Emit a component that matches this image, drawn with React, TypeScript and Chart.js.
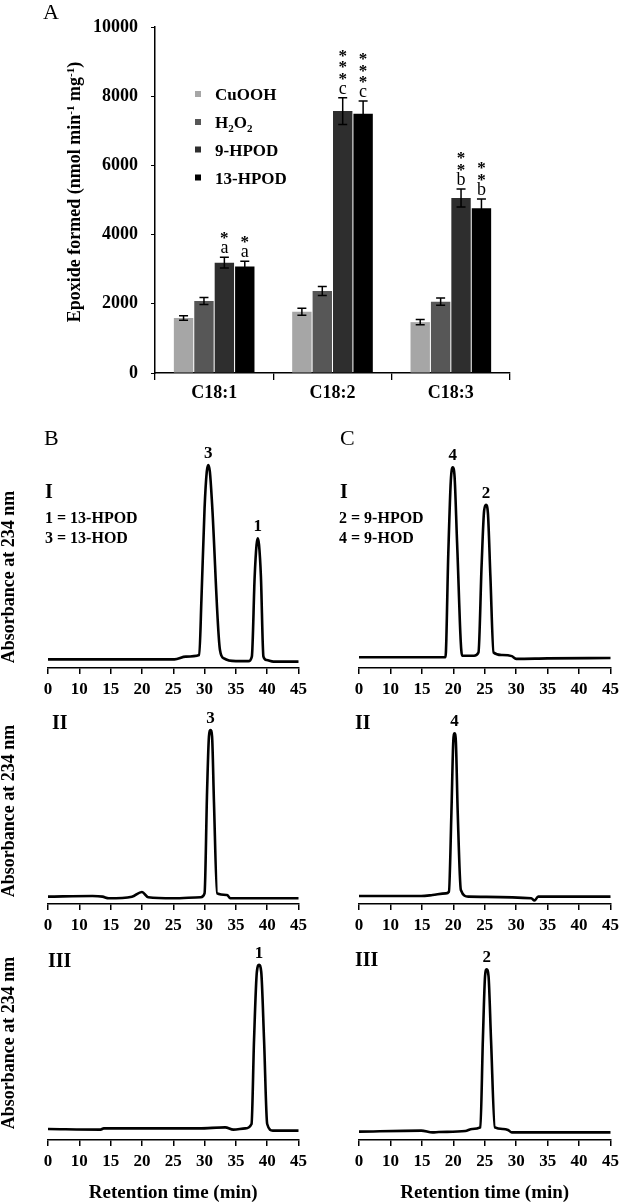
import React, { useEffect, useRef } from 'react';
import { Chart, registerables } from 'chart.js';

Chart.register(...registerables);

const SERIF = '"Liberation Serif", "Times New Roman", serif';

// ---------- Panel A data ----------
const CATEGORIES = ['C18:1', 'C18:2', 'C18:3'];
const SERIES_NAMES = ['CuOOH', 'H2O2', '9-HPOD', '13-HPOD'];
const CUOOH = [1590, 1770, 1470];
const CUOOH_ERR = [65, 100, 75];
const H2O2 = [2080, 2370, 2060];
const H2O2_ERR = [100, 130, 105];
const HPOD9 = [3190, 7570, 5060];
const HPOD9_ERR = [155, 385, 260];
const HPOD13 = [3080, 7490, 4760];
const HPOD13_ERR = [150, 370, 270];
const SERIES_COLORS = ['#a6a6a6', '#575757', '#2e2e2e', '#000000'];
const Y_MAX = 10000;
const Y_STEP = 2000;
// significance marks (only for 9-HPOD and 13-HPOD series)
const HPOD9_LETTERS = ['a', 'c', 'b'];
const HPOD9_STARS = [1, 3, 2];
const HPOD13_LETTERS = ['a', 'c', 'b'];
const HPOD13_STARS = [1, 3, 2];

// ---------- Chromatogram data ----------
const RT_TICK_VALUES = [5, 10, 15, 20, 25, 30, 35, 40, 45];
const RT_TICK_LABELS = ['0', '10', '15', '20', '25', '30', '35', '40', '45'];

const B1_TIME = [5, 15, 25.2, 27, 29.15, 29.5, 30.0, 30.35, 30.6, 30.85, 31.2, 32.46, 33.1, 35, 37.0, 37.55, 38.0, 38.3, 38.5, 38.7, 39.0, 39.4, 39.9, 41, 45];
const B1_ABS = [0.038, 0.038, 0.038, 0.05, 0.057, 0.3, 0.7, 0.86, 0.89, 0.86, 0.72, 0.079, 0.042, 0.03, 0.03, 0.05, 0.4, 0.54, 0.569, 0.54, 0.4, 0.05, 0.035, 0.028, 0.028];

const C1_TIME = [5, 15, 18.75, 19.2, 19.6, 19.9, 20.2, 20.6, 21.4, 23.3, 24.0, 24.5, 24.9, 25.2, 25.5, 25.9, 26.4, 27.7, 29.3, 30.0, 35, 45];
const C1_ABS = [0.047, 0.047, 0.047, 0.5, 0.82, 0.88, 0.84, 0.55, 0.054, 0.054, 0.068, 0.45, 0.69, 0.716, 0.68, 0.4, 0.068, 0.057, 0.052, 0.04, 0.042, 0.044];

const B2_TIME = [5, 12.1, 13.7, 14.7, 18.4, 20, 21, 25, 29.4, 30.0, 30.4, 30.7, 30.95, 31.2, 31.5, 32.0, 33.6, 34.1, 45];
const B2_ABS = [0.036, 0.039, 0.036, 0.028, 0.036, 0.059, 0.033, 0.028, 0.033, 0.052, 0.55, 0.82, 0.853, 0.82, 0.5, 0.052, 0.044, 0.028, 0.028];

const C2_TIME = [5, 14.9, 16.7, 18.8, 19.3, 19.7, 20.0, 20.2, 20.4, 20.7, 21.2, 22.4, 32.4, 32.9, 33.5, 45];
const C2_ABS = [0.039, 0.039, 0.044, 0.052, 0.06, 0.45, 0.8, 0.837, 0.8, 0.45, 0.069, 0.036, 0.028, 0.017, 0.036, 0.036];

const B3_TIME = [5, 13.4, 13.9, 29.1, 33.3, 34.6, 36.5, 37.5, 37.9, 38.35, 38.7, 39.05, 39.5, 40.0, 40.9, 45];
const B3_ABS = [0.055, 0.052, 0.058, 0.058, 0.063, 0.052, 0.058, 0.08, 0.5, 0.84, 0.876, 0.84, 0.5, 0.08, 0.047, 0.047];

const C3_TIME = [5, 14.9, 16.7, 17.7, 21.9, 23, 24.3, 24.7, 25.05, 25.3, 25.6, 26.0, 26.6, 27.9, 28.7, 29.3, 45];
const C3_ABS = [0.042, 0.047, 0.038, 0.04, 0.045, 0.055, 0.063, 0.5, 0.82, 0.853, 0.82, 0.5, 0.063, 0.055, 0.05, 0.038, 0.038];

// ---------- helpers ----------
type Seg = { t: string; s?: 'sup' | 'sub' };

function toSegs(name: string): Seg[] {
  const segs: Seg[] = [];
  for (let i = 0; i < name.length; i++) {
    const ch = name[i];
    const prev = i > 0 ? name[i - 1] : '';
    const sub = /[0-9]/.test(ch) && /[A-Z]/.test(prev);
    const last = segs[segs.length - 1];
    if (last && !!last.s === sub) last.t += ch;
    else segs.push(sub ? { t: ch, s: 'sub' } : { t: ch });
  }
  return segs;
}

function drawRich(ctx: CanvasRenderingContext2D, segs: Seg[], x: number, y: number, size: number, align: 'left' | 'center') {
  const main = `bold ${size}px ${SERIF}`;
  const small = `bold ${Math.round(size * 0.62)}px ${SERIF}`;
  let w = 0;
  for (const s of segs) {
    ctx.font = s.s ? small : main;
    w += ctx.measureText(s.t).width;
  }
  let cx = align === 'center' ? x - w / 2 : x;
  ctx.textAlign = 'left';
  for (const s of segs) {
    ctx.font = s.s ? small : main;
    const dy = s.s === 'sup' ? -size * 0.36 : s.s === 'sub' ? size * 0.22 : 0;
    ctx.fillText(s.t, cx, y + dy);
    cx += ctx.measureText(s.t).width;
  }
}

// ---------- Panel A config ----------
function makeBarConfig(): any {
  const values = [CUOOH, H2O2, HPOD9, HPOD13];
  const errs = [CUOOH_ERR, H2O2_ERR, HPOD9_ERR, HPOD13_ERR];
  const letters: (string[] | null)[] = [null, null, HPOD9_LETTERS, HPOD13_LETTERS];
  const stars: (number[] | null)[] = [null, null, HPOD9_STARS, HPOD13_STARS];

  const extras = {
    id: 'barExtras',
    afterDatasetsDraw(chart: any) {
      const ctx: CanvasRenderingContext2D = chart.ctx;
      const ys = chart.scales.y;
      ctx.save();
      chart.data.datasets.forEach((ds: any, di: number) => {
        const meta = chart.getDatasetMeta(di);
        meta.data.forEach((bar: any, i: number) => {
          const v = ds.data[i];
          const e = errs[di][i];
          const x = bar.x;
          const yt = ys.getPixelForValue(v + e);
          const yb = ys.getPixelForValue(v - e);
          ctx.strokeStyle = '#000';
          ctx.lineWidth = 1.5;
          ctx.beginPath();
          ctx.moveTo(x, yt); ctx.lineTo(x, yb);
          ctx.moveTo(x - 4.5, yt); ctx.lineTo(x + 4.5, yt);
          ctx.moveTo(x - 4.5, yb); ctx.lineTo(x + 4.5, yb);
          ctx.stroke();
          const L = letters[di];
          const S = stars[di];
          if (L && S) {
            ctx.fillStyle = '#000';
            ctx.textAlign = 'center';
            ctx.textBaseline = 'alphabetic';
            ctx.font = `18px ${SERIF}`;
            ctx.fillText(L[i], x, yt - 4);
            ctx.font = `bold 17px ${SERIF}`;
            for (let k = 0; k < S[i]; k++) {
              const cy = yt - 23 - k * 11.5;
              ctx.fillText('*', x, cy + 9);
            }
          }
        });
      });
      ctx.restore();
    },
    afterDraw(chart: any) {
      const ctx: CanvasRenderingContext2D = chart.ctx;
      ctx.save();
      ctx.fillStyle = '#000';
      ctx.textBaseline = 'alphabetic';
      // panel letter
      ctx.font = `22px ${SERIF}`;
      ctx.textAlign = 'left';
      ctx.fillText('A', 43, 19);
      // legend
      const rows = [100, 128, 155.5, 183.5];
      SERIES_NAMES.forEach((name, i) => {
        ctx.fillStyle = SERIES_COLORS[i];
        ctx.fillRect(195, rows[i] - 9, 6, 6);
        ctx.fillStyle = '#000';
        drawRich(ctx, toSegs(name), 215, rows[i], 17, 'left');
      });
      // y title
      ctx.translate(80, 192);
      ctx.rotate(-Math.PI / 2);
      drawRich(ctx, [{ t: 'Epoxide formed (nmol min' }, { t: '-1', s: 'sup' }, { t: ' mg' }, { t: '-1', s: 'sup' }, { t: ')' }], 0, 0, 18, 'center');
      ctx.restore();
    },
  };

  return {
    type: 'bar',
    data: {
      labels: CATEGORIES,
      datasets: values.map((vals, i) => ({
        label: SERIES_NAMES[i],
        data: vals,
        backgroundColor: SERIES_COLORS[i],
        borderWidth: 0,
        barPercentage: 0.95,
        categoryPercentage: 0.69,
      })),
    },
    options: {
      responsive: false,
      animation: false,
      events: [],
      layout: { padding: { top: 27, right: 114, left: 0, bottom: 0 } },
      plugins: { legend: { display: false }, tooltip: { enabled: false }, title: { display: false } },
      scales: {
        x: {
          offset: true,
          grid: { display: true, offset: true, drawOnChartArea: false, drawTicks: true, tickLength: 7, color: '#000', lineWidth: 1.3 },
          border: { display: true, color: '#000', width: 1.5 },
          ticks: { font: { family: SERIF, size: 18, weight: 'bold' }, color: '#000', padding: 3, maxRotation: 0 },
          afterFit: (s: any) => { s.height = 37; },
        },
        y: {
          min: 0,
          max: Y_MAX,
          ticks: {
            stepSize: Y_STEP,
            font: { family: SERIF, size: 18, weight: 'bold' },
            color: '#000',
            padding: 13,
            callback: (v: number) => String(v),
          },
          grid: { display: true, drawOnChartArea: false, drawTicks: true, tickLength: 4, color: '#000', lineWidth: 1 },
          border: { display: true, color: '#000', width: 1.5 },
          afterFit: (s: any) => { s.width = 155; },
        },
      },
    },
    plugins: [extras],
  };
}

// ---------- Chromatogram config ----------
interface TextItem { t: string; x: number; y: number; font: string }
interface ChromPanel {
  left: number; top: number; width: number; height: number;
  padLeft: number; padRight: number; padTop: number; axisHeight: number;
  time: number[]; abs: number[];
  peaks: { label: string; at: number }[];
  texts: TextItem[];
  yTitleCenter?: number;
  xTitle?: boolean;
}

const F_PANEL = `22px ${SERIF}`;
const F_ROMAN = `bold 20px ${SERIF}`;
const F_KEY = `bold 16px ${SERIF}`;

const PANELS: ChromPanel[] = [
  {
    left: 0, top: 400, width: 312, height: 305, padLeft: 48, padRight: 10, padTop: 40, axisHeight: 37,
    time: B1_TIME, abs: B1_ABS,
    peaks: [{ label: '3', at: 30.6 }, { label: '1', at: 38.5 }],
    texts: [
      { t: 'B', x: 44, y: 445, font: F_PANEL },
      { t: 'I', x: 45, y: 498, font: F_ROMAN },
      { t: '1 = 13-HPOD', x: 45, y: 523, font: F_KEY },
      { t: '3 = 13-HOD', x: 45, y: 543, font: F_KEY },
    ],
    yTitleCenter: 577,
  },
  {
    left: 312, top: 400, width: 312, height: 305, padLeft: 47, padRight: 11, padTop: 40, axisHeight: 37,
    time: C1_TIME, abs: C1_ABS,
    peaks: [{ label: '4', at: 19.9 }, { label: '2', at: 25.2 }],
    texts: [
      { t: 'C', x: 340, y: 445, font: F_PANEL },
      { t: 'I', x: 340, y: 498, font: F_ROMAN },
      { t: '2 = 9-HPOD', x: 339, y: 523, font: F_KEY },
      { t: '4 = 9-HOD', x: 339, y: 543, font: F_KEY },
    ],
  },
  {
    left: 0, top: 680, width: 312, height: 260, padLeft: 48, padRight: 10, padTop: 20, axisHeight: 36,
    time: B2_TIME, abs: B2_ABS,
    peaks: [{ label: '3', at: 30.95 }],
    texts: [{ t: 'II', x: 52, y: 729, font: F_ROMAN }],
    yTitleCenter: 811,
  },
  {
    left: 312, top: 680, width: 312, height: 260, padLeft: 47, padRight: 11, padTop: 20, axisHeight: 36,
    time: C2_TIME, abs: C2_ABS,
    peaks: [{ label: '4', at: 20.2 }],
    texts: [{ t: 'II', x: 355, y: 729, font: F_ROMAN }],
  },
  {
    left: 0, top: 930, width: 312, height: 274, padLeft: 48, padRight: 10, padTop: 10, axisHeight: 64,
    time: B3_TIME, abs: B3_ABS,
    peaks: [{ label: '1', at: 38.7 }],
    texts: [{ t: 'III', x: 48, y: 967, font: F_ROMAN }],
    yTitleCenter: 1043,
    xTitle: true,
  },
  {
    left: 312, top: 930, width: 312, height: 274, padLeft: 47, padRight: 11, padTop: 10, axisHeight: 64,
    time: C3_TIME, abs: C3_ABS,
    peaks: [{ label: '2', at: 25.3 }],
    texts: [{ t: 'III', x: 355, y: 966, font: F_ROMAN }],
    xTitle: true,
  },
];

function makeChromConfig(p: ChromPanel): any {
  const points = p.time.map((t, i) => ({ x: t, y: p.abs[i] }));
  const overlay = {
    id: 'chromText',
    afterDraw(chart: any) {
      const ctx: CanvasRenderingContext2D = chart.ctx;
      const xs = chart.scales.x;
      const ys = chart.scales.y;
      ctx.save();
      ctx.fillStyle = '#000';
      ctx.textBaseline = 'alphabetic';
      ctx.textAlign = 'left';
      for (const tx of p.texts) {
        ctx.font = tx.font;
        ctx.fillText(tx.t, tx.x - p.left, tx.y - p.top);
      }
      // peak labels at the highest point near each peak
      ctx.textAlign = 'center';
      ctx.font = `bold 17px ${SERIF}`;
      for (const pk of p.peaks) {
        let best = -1;
        p.time.forEach((t, i) => {
          if (Math.abs(t - pk.at) <= 1 && (best < 0 || p.abs[i] > p.abs[best])) best = i;
        });
        if (best >= 0) {
          ctx.fillText(pk.label, xs.getPixelForValue(p.time[best]), ys.getPixelForValue(p.abs[best]) - 7);
        }
      }
      if (p.yTitleCenter !== undefined) {
        ctx.translate(9, p.yTitleCenter - p.top);
        ctx.rotate(-Math.PI / 2);
        ctx.textBaseline = 'middle';
        ctx.textAlign = 'center';
        ctx.font = `bold 18px ${SERIF}`;
        ctx.fillText('Absorbance at 234 nm', 0, 0);
      }
      ctx.restore();
    },
  };
  return {
    type: 'line',
    data: {
      datasets: [{
        data: points,
        borderColor: '#000',
        borderWidth: 2.6,
        pointRadius: 0,
        fill: false,
        cubicInterpolationMode: 'monotone',
        borderJoinStyle: 'round',
        borderCapStyle: 'round',
      }],
    },
    options: {
      responsive: false,
      animation: false,
      events: [],
      layout: { padding: { top: p.padTop, left: p.padLeft, right: p.padRight, bottom: 0 } },
      plugins: { legend: { display: false }, tooltip: { enabled: false } },
      scales: {
        x: {
          type: 'linear',
          min: 5,
          max: 45,
          afterBuildTicks: (s: any) => { s.ticks = RT_TICK_VALUES.map((v) => ({ value: v })); },
          ticks: {
            autoSkip: false,
            maxRotation: 0,
            padding: 5,
            color: '#000',
            font: { family: SERIF, size: 17, weight: 'bold' },
            callback: (v: number) => {
              const idx = RT_TICK_VALUES.indexOf(v);
              return idx >= 0 ? RT_TICK_LABELS[idx] : '';
            },
          },
          grid: { display: true, drawOnChartArea: false, drawTicks: true, tickLength: 6, color: '#000', lineWidth: 1.5 },
          border: { display: true, color: '#000', width: 1.5 },
          title: {
            display: !!p.xTitle,
            text: 'Retention time (min)',
            color: '#000',
            font: { family: SERIF, size: 19, weight: 'bold' },
            padding: { top: 0, bottom: 0 },
          },
          afterFit: (s: any) => { s.height = p.axisHeight; },
        },
        y: { display: false, min: 0, max: 1 },
      },
    },
    plugins: [overlay],
  };
}

function ChartBox(props: { left: number; top: number; width: number; height: number; make: () => any }) {
  const ref = useRef<HTMLCanvasElement>(null);
  useEffect(() => {
    const chart = new Chart(ref.current as HTMLCanvasElement, props.make());
    return () => chart.destroy();
  }, []);
  return (
    <canvas
      ref={ref}
      width={props.width}
      height={props.height}
      style={{ position: 'absolute', left: props.left, top: props.top, width: props.width, height: props.height }}
    />
  );
}

export default function App() {
  return (
    <div style={{ position: 'absolute', left: 0, top: 0, width: 624, height: 1204, background: '#fff', overflow: 'hidden' }}>
      <ChartBox left={0} top={0} width={624} height={410} make={makeBarConfig} />
      {PANELS.map((p, i) => (
        <ChartBox key={i} left={p.left} top={p.top} width={p.width} height={p.height} make={() => makeChromConfig(p)} />
      ))}
    </div>
  );
}
